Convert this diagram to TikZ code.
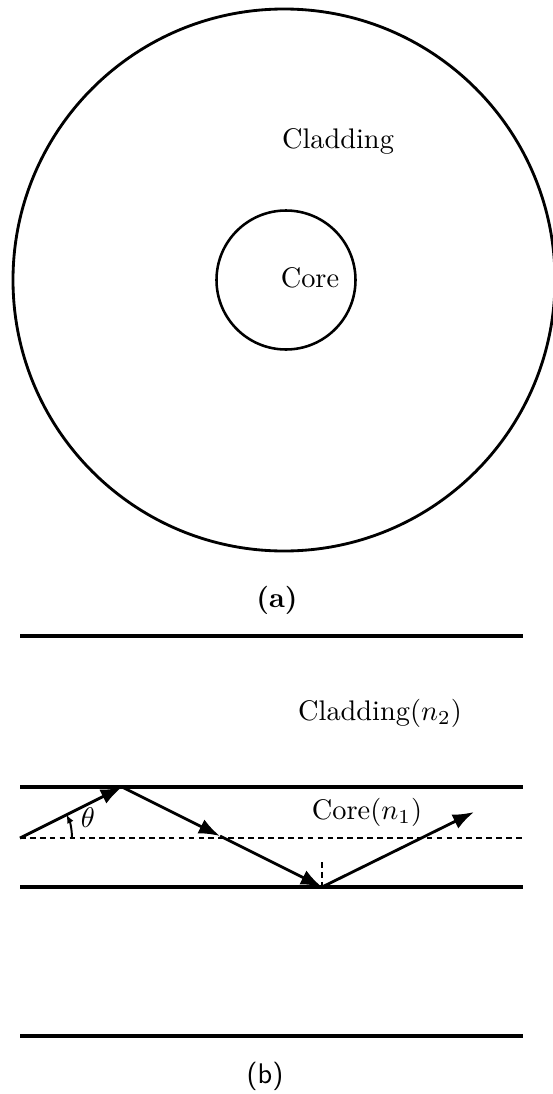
\documentclass[tikz,border=0pt]{standalone}
\usetikzlibrary{arrows.meta}

\begin{document}
\begin{tikzpicture}[
    x=1pt, y=-1pt, scale=0.3528,
    wall/.style={line width=1.2pt},
    ray/.style={line width=1pt, -{Latex[length=7.5pt,width=5.5pt]}},
    axisline/.style={line width=0.45pt, dash pattern=on 2pt off 1.5pt},
    lbl/.style={inner sep=0pt},
]
\useasboundingbox (0,0) rectangle (552,1094);

% (a) cross section of the fibre
\draw[line width=1pt] (284,280) circle (271);
\draw[line width=0.9pt] (286,280) circle (69.5);
\node[lbl] (clad) at (338,141) {Cladding};
\node[lbl] (core) at (310,278) {Core};
\node[lbl] (capa) at (277,600) {\textbf{(a)}};

% (b) side view
\coordinate (w1l) at (20,636);   \coordinate (w1r) at (523,636);
\coordinate (w2l) at (20,787);   \coordinate (w2r) at (523,787);
\coordinate (w3l) at (20,887);   \coordinate (w3r) at (523,887);
\coordinate (w4l) at (20,1036);  \coordinate (w4r) at (523,1036);
\coordinate (axl) at (20,838);   \coordinate (axr) at (523,838);
\foreach \w in {w1, w2, w3, w4}
    \draw[wall] (\w l) -- (\w r);
\draw[axisline] (axl) -- (axr);

\node[lbl] (clad2) at (380,713) {Cladding($n_2$)};
\node[lbl] (core1) at (367,812) {Core($n_1$)};

% the ray
\coordinate (top) at (122,787);
\coordinate (mid) at (220,836);
\coordinate (bot) at (322,887);
\coordinate (norm) at (322,862);
\coordinate (out) at (474,812);
\draw[ray] (axl) -- (top);
\draw[ray] (top) -- (mid);
\draw[ray] (mid) -- (bot);
\draw[ray] (bot) -- (out);
\draw[axisline] (norm) -- (bot);

% angle
\draw[line width=0.7pt, -{Latex[length=3pt,width=2.5pt]}] (72,838) arc[start angle=0, end angle=-26.6, radius=52];
\node[lbl] (theta) at (88,818) {$\theta$};

\node[lbl] (capb) at (265,1076) {\textsf{(b)}};
\end{tikzpicture}
\end{document}
